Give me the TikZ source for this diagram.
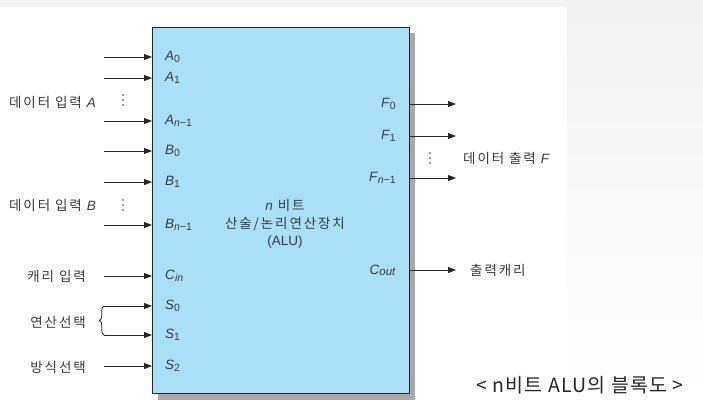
\documentclass[tikz,border=0pt]{standalone}
\usepackage{fontspec}
\setmainfont{Liberation Sans}
\newfontfamily\kr[LetterSpace=14]{Noto Sans CJK KR}
\newfontfamily\krcap[LetterSpace=6]{Noto Sans CJK KR}
\usetikzlibrary{arrows.meta,decorations.pathreplacing}
\definecolor{alublue}{HTML}{A9DFF9}
\definecolor{shadowgray}{HTML}{A9A9A9}
\definecolor{txt}{HTML}{3A3A3A}
\definecolor{bggray}{HTML}{F3F3F3}
\definecolor{linec}{HTML}{262626}
\newcommand\sig[2]{\textit{#1}\raisebox{-2.5pt}{\fontsize{10.5}{11}\selectfont #2}}
\begin{document}
\begin{tikzpicture}[x=1pt,y=-1pt,
  arr/.style={draw=linec,line width=0.9pt,-{Triangle[length=8pt,width=6pt]}},
  sigl/.style={font=\fontsize{13.5}{14}\selectfont,text=txt,inner sep=0pt},
  krl/.style={font=\kr\fontsize{13.5}{14}\selectfont,text=txt,inner sep=0pt},
  dotc/.style={fill=txt,radius=0.9pt}]
\useasboundingbox (0,0) rectangle (703,400);
\fill[bggray] (0,0) rectangle (703,400);
\shade[top color=bggray,bottom color=white] (567,7) rectangle (703,400);
\fill[white] (0,7) rectangle (567,400);
% shadow and box
\fill[shadowgray] (158,33) rectangle (415,400);
\node[draw=linec,line width=0.9pt,fill=alublue,minimum width=257pt,minimum height=366pt,inner sep=0pt,anchor=north west] (alu) at (152,27) {};
% input labels inside
\node[sigl,anchor=west] (a0) at (165,57) {\sig{A}{0}};
\node[sigl,anchor=west] (a1) at (165,78) {\sig{A}{1}};
\node[sigl,anchor=west] (an) at (165,121) {\sig{A}{\textit{n}−1}};
\node[sigl,anchor=west] (b0) at (165,151) {\sig{B}{0}};
\node[sigl,anchor=west] (b1) at (165,182) {\sig{B}{1}};
\node[sigl,anchor=west] (bn) at (165,225) {\sig{B}{\textit{n}−1}};
\node[sigl,anchor=west] (cin) at (165,276) {\sig{C}{\textit{in}}};
\node[sigl,anchor=west] (s0) at (165,306) {\sig{S}{0}};
\node[sigl,anchor=west] (s1) at (165,335) {\sig{S}{1}};
\node[sigl,anchor=west] (s2) at (165,366) {\sig{S}{2}};
% output labels inside
\node[sigl,anchor=east] (f0) at (396,104) {\sig{F}{0}};
\node[sigl,anchor=east] (f1) at (396,136) {\sig{F}{1}};
\node[sigl,anchor=east] (fn) at (396,178) {\sig{F}{\textit{n}−1}};
\node[sigl,anchor=east] (cout) at (396,270) {\textit{C}\raisebox{-0.8pt}{\fontsize{11.5}{12}\selectfont\textit{out}}};
% centre text
\node[krl,align=center] (title) at (285,224) {{\rmfamily\itshape n} 비트\\[4.5pt]산술/논리연산장치\\[3pt]{\rmfamily (ALU)}};
% input arrow starts
\foreach \n/\y in {a0/57,a1/78,an/121,b0/151,b1/182,bn/225,cin/276,s0/306,s1/335,s2/366}
  \coordinate (\n s) at (104,\y);
\foreach \n in {a0,a1,an,b0,b1,bn,cin,s0,s1,s2}
  \draw[arr] (\n s) -- (\n s -| alu.west);
% output arrow ends
\foreach \n/\y in {f0/104,f1/136,fn/178,cout/270}
  \coordinate (\n e) at (456,\y);
\foreach \n in {f0,f1,fn,cout}
  \draw[arr] (\n e -| alu.east) -- (\n e);
% dots
\foreach \y in {95,100,105} \fill[dotc] (123,\y) circle;
\foreach \y in {200,205,210} \fill[dotc] (123,\y) circle;
\foreach \y in {153,158,163} \fill[dotc] (430,\y) circle;
% left labels
\node[krl,anchor=west] (da) at (9,102) {데이터 입력 {\rmfamily\itshape A}};
\node[krl,anchor=west] (db) at (9,205) {데이터 입력 {\rmfamily\itshape B}};
\node[krl,anchor=east] (ci) at (86,276) {캐리 입력};
\node[krl,anchor=east] (op) at (86,322) {연산선택};
\node[krl,anchor=east] (md) at (86,367) {방식선택};
\draw[linec,line width=0.8pt,decorate,decoration={brace,amplitude=4.5pt}] (s1s) -- (s0s);
% right labels
\node[krl,anchor=west] (do) at (463,158) {데이터 출력 {\rmfamily\itshape F}};
\node[krl,anchor=west] (co) at (470,270) {출력캐리};
% caption
\node[font=\krcap\fontsize{19.5}{20}\selectfont,text=black!85,inner sep=0pt,anchor=west] (cap) at (476,385) {< n비트 ALU의 블록도 >};
\end{tikzpicture}
\end{document}
